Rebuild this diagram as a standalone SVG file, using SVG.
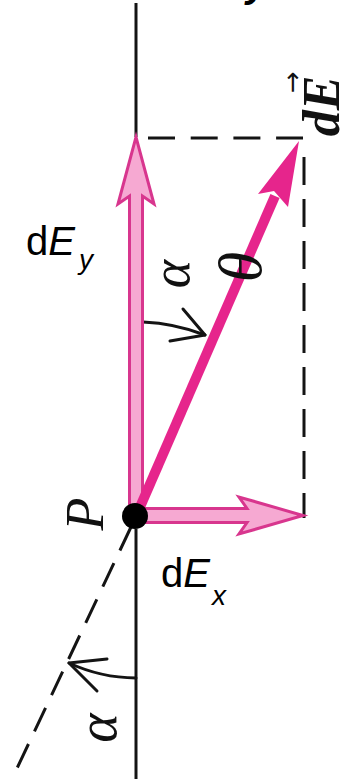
<svg xmlns="http://www.w3.org/2000/svg" width="351" height="779" viewBox="0 0 351 779">
<style>
.axis{stroke:#141414;stroke-width:3;fill:none}
.dash{stroke:#141414;stroke-width:3;fill:none}
.thin{stroke:#141414;stroke-width:3;fill:none;stroke-linecap:round;stroke-linejoin:round}
.comp{fill:#f6a9d2;stroke:#d8368e;stroke-width:3;stroke-linejoin:miter}
.res{fill:#e6258c}
.lab{font-family:"Liberation Sans",Arial,sans-serif;fill:#000}
.ser{font-family:"Liberation Serif","Times New Roman",serif;font-style:italic;fill:#111}
</style>
<rect width="351" height="779" fill="#ffffff"/>
<g id="connectors">
<line class="axis" x1="136" y1="3" x2="136" y2="137"/>
<line class="axis" x1="136" y1="529" x2="136" y2="779"/>
<line class="dash" x1="148" y1="138" x2="303" y2="138" stroke-dasharray="27 15.7"/>
<line class="dash" x1="304" y1="157" x2="304" y2="518" stroke-dasharray="28 14"/>
<line class="dash" x1="131" y1="527" x2="11" y2="781" stroke-dasharray="26 14"/>
<path class="thin" d="M143 322 A194 194 0 0 1 205 335"/>
<path class="thin" d="M170 341 L205 335 L183 309"/>
<path class="thin" d="M136 678 A162 162 0 0 1 69 663"/>
<path class="thin" d="M107 659 L69 663 L97 691"/>
</g>
<g id="dEx">
<polygon class="comp" points="136,508.5 247,508.5 239,497 303,515.5 239,534 247,522.5 136,522.5"/>
</g>
<g id="dEy">
<polygon class="comp" points="129.5,516 129.5,196 118,204 136,137 154,204 142.5,196 142.5,516"/>
</g>
<g id="dE">
<line x1="137" y1="514" x2="275" y2="196" stroke="#e6258c" stroke-width="10"/>
<polygon class="res" points="299,141 288,207 274,191 258,194"/>
</g>
<g id="P">
<circle cx="135" cy="516" r="13" fill="#000"/>
</g>
<g id="labels">
<text class="lab" x="26" y="255" font-size="40">d<tspan font-style="italic">E</tspan><tspan font-style="italic" font-size="28" dx="4" dy="13.5">y</tspan></text>
<text class="lab" x="161" y="587" font-size="40">d<tspan font-style="italic">E</tspan><tspan font-style="italic" font-size="28" dx="2" dy="18">x</tspan></text>
<text class="ser" transform="translate(189,274) rotate(-90)" text-anchor="middle" font-size="54">α</text>
<text class="ser" transform="translate(261,267) rotate(-90)" text-anchor="middle" font-size="62">θ</text>
<text class="ser" transform="translate(103,514) rotate(-90)" text-anchor="middle" font-size="54">P</text>
<text class="ser" transform="translate(339,106) rotate(-90)" text-anchor="middle" font-size="52" font-weight="bold">dE</text>
<text transform="translate(301,82) rotate(-90)" text-anchor="middle" font-size="26" font-family="DejaVu Sans,sans-serif" fill="#111">→</text>
<text class="ser" transform="translate(116,728) rotate(-90)" text-anchor="middle" font-size="56">α</text>
<text class="lab" x="246" y="-3" font-size="40" font-weight="bold" font-style="italic">y</text>
</g>
</svg>
